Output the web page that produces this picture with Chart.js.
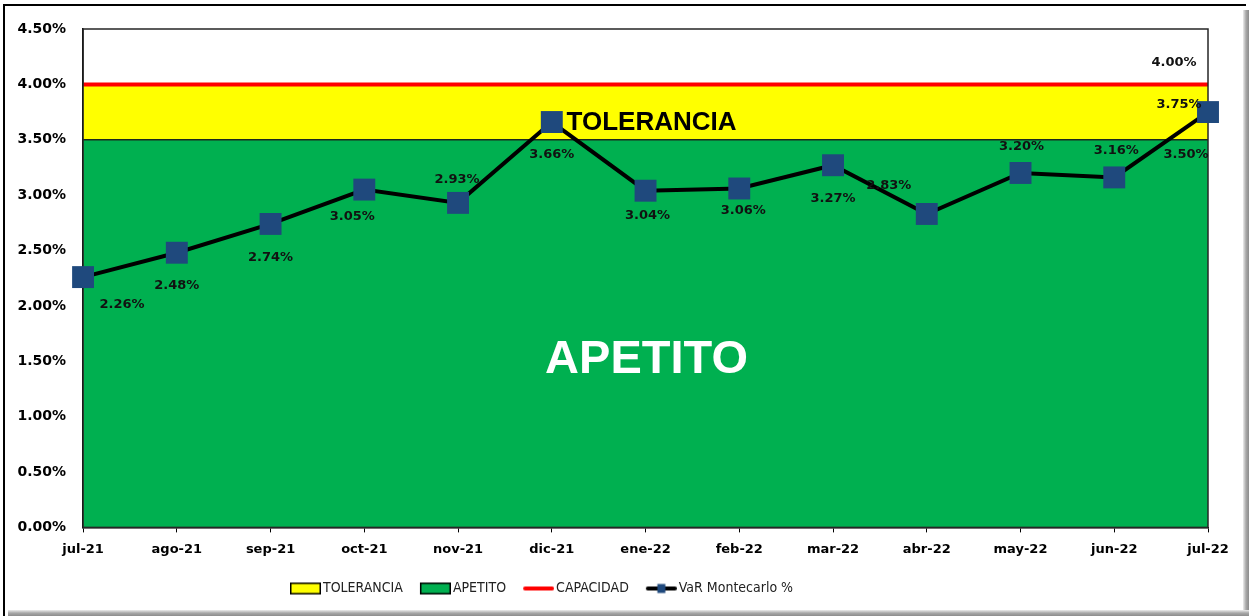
<!DOCTYPE html>
<html><head><meta charset="utf-8">
<script src="https://cdn.jsdelivr.net/npm/chart.js@4.4.1/dist/chart.umd.min.js"></script>
<style>
html,body{margin:0;padding:0;background:#fff;}
body{width:1249px;height:616px;position:relative;overflow:hidden;}
.fl{position:absolute;left:3px;top:4px;width:2px;height:612px;background:#000;}
.ft{position:absolute;left:3px;top:4px;width:1243px;height:2px;background:#000;}
.sr{position:absolute;left:1243px;top:10px;width:6px;height:606px;background:linear-gradient(to right,#ececec,#a8a8a8 50%,#8c8c8c);}
.sb{position:absolute;left:8px;top:610px;width:1241px;height:6px;background:linear-gradient(to bottom,#ececec,#a8a8a8 50%,#8c8c8c);}
#wrap{position:absolute;left:0;top:0;width:1249px;height:616px;}
</style></head>
<body>
<div class="fl"></div><div class="ft"></div><div class="sr"></div><div class="sb"></div>
<div id="wrap"><canvas id="c" width="1249" height="616"></canvas></div>
<script>
const categories = ['jul-21','ago-21','sep-21','oct-21','nov-21','dic-21','ene-22','feb-22','mar-22','abr-22','may-22','jun-22','jul-22'];
const varMontecarlo = [2.26,2.48,2.74,3.05,2.93,3.66,3.04,3.06,3.27,2.83,3.20,3.16,3.75];
const apetito = [3.5,3.5,3.5,3.5,3.5,3.5,3.5,3.5,3.5,3.5,3.5,3.5,3.5];
const tolerancia = [0.5,0.5,0.5,0.5,0.5,0.5,0.5,0.5,0.5,0.5,0.5,0.5,0.5];
const capacidad = [4.0,4.0,4.0,4.0,4.0,4.0,4.0,4.0,4.0,4.0,4.0,4.0,4.0];
const yTickLabels = ['0.00%','0.50%','1.00%','1.50%','2.00%','2.50%','3.00%','3.50%','4.00%','4.50%'];
const seriesNames = ['TOLERANCIA','APETITO','CAPACIDAD','VaR Montecarlo %'];
const bandLabels = ['TOLERANCIA','APETITO'];

const COLORS = {tol:'#FFFF00', ape:'#00B050', cap:'#FF0000', line:'#000000', marker:'#1F497D'};
const fmt = v => v.toFixed(2) + '%';

function legendImg(kind){
  const c = document.createElement('canvas');
  c.width = 36; c.height = 14;
  const g = c.getContext('2d');
  const x0 = 5, w = 31;
  if (kind === 'tol' || kind === 'ape') {
    g.fillStyle = kind === 'tol' ? COLORS.tol : COLORS.ape;
    g.fillRect(x0 + 1, 2, w - 2, 10);
    g.strokeStyle = '#000'; g.lineWidth = 1.5;
    g.strokeRect(x0 + 0.75, 1.75, w - 1.5, 10.5);
  } else if (kind === 'cap') {
    g.strokeStyle = COLORS.cap; g.lineWidth = 4; g.lineCap = 'round';
    g.beginPath(); g.moveTo(x0 + 2, 7); g.lineTo(x0 + w - 2, 7); g.stroke();
  } else {
    g.strokeStyle = '#000'; g.lineWidth = 4; g.lineCap = 'round';
    g.beginPath(); g.moveTo(x0 + 2, 7); g.lineTo(x0 + w - 2, 7); g.stroke();
    g.fillStyle = COLORS.marker; g.fillRect(x0 + w / 2 - 4, 2.5, 8, 9);
  }
  return c;
}
const legendImgs = [legendImg('tol'), legendImg('ape'), legendImg('cap'), legendImg('var')];

const legendPos = {
  id: 'legendPos',
  afterLayout(chart, args, opts) {
    const lg = chart.legend;
    if (!lg) return;
    const p = lg.options.labels.padding;
    const fs = lg.options.labels.font.size;
    const w = lg.right - lg.left, h = lg.bottom - lg.top;
    lg.left = opts.x - p; lg.right = lg.left + w;
    lg.top = opts.cy - fs / 2 - p; lg.bottom = lg.top + h;
  }
};

const overlay = {
  id: 'overlay',
  afterDatasetDraw(chart, args, opts) {
    const ctx = chart.ctx, a = chart.chartArea, y = chart.scales.y;
    const cx = (a.left + a.right) / 2;
    if (args.index === 1) {
      ctx.save();
      ctx.textAlign = 'center'; ctx.textBaseline = 'middle';
      ctx.fillStyle = '#000'; ctx.font = 'bold 26px "Liberation Sans", Arial, sans-serif';
      ctx.fillText(bandLabels[0], cx + 6, (y.getPixelForValue(capacidad[0]) + y.getPixelForValue(apetito[0])) / 2 + 11);
      ctx.fillStyle = '#fff'; ctx.font = 'bold 47px "Liberation Sans", Arial, sans-serif';
      ctx.fillText(bandLabels[1], cx + 1, (y.getPixelForValue(apetito[0]) + y.getPixelForValue(0)) / 2 + 26);
      ctx.restore();
    }
    if (args.index === 2) {
      ctx.save();
      ctx.strokeStyle = '#262626'; ctx.lineWidth = 1.5;
      ctx.strokeRect(a.left, a.top, a.right - a.left, a.bottom - a.top);
      ctx.restore();
    }
  },
  afterDatasetsDraw(chart, args, opts) {
    const ctx = chart.ctx;
    ctx.save();
    ctx.font = 'bold 13px "DejaVu Sans", sans-serif';
    ctx.fillStyle = '#111';
    ctx.textAlign = 'center'; ctx.textBaseline = 'middle';
    const meta = chart.getDatasetMeta(3);
    meta.data.forEach((pt, i) => {
      const o = opts.offsets[i];
      ctx.fillText(fmt(varMontecarlo[i]), pt.x + o[0], pt.y + o[1]);
    });
    const last = categories.length - 1;
    const capPt = chart.getDatasetMeta(2).data[last];
    ctx.fillText(fmt(capacidad[last]), capPt.x + opts.capOffset[0], capPt.y + opts.capOffset[1]);
    const apePt = chart.getDatasetMeta(1).data[last];
    ctx.fillText(fmt(apetito[last]), apePt.x + opts.apeOffset[0], apePt.y + opts.apeOffset[1]);
    ctx.restore();
  }
};

const xTickFont = {family: '"DejaVu Sans", sans-serif', weight: 'bold', size: 13};
const yTickFont = {family: '"DejaVu Sans", sans-serif', weight: 'bold', size: 14};

new Chart(document.getElementById('c'), {
  type: 'line',
  data: {
    labels: categories,
    datasets: [
      {label: seriesNames[0], data: apetito.map((v, i) => v + tolerancia[i]), fill: 1,
       backgroundColor: COLORS.tol, borderColor: COLORS.tol, borderWidth: 0, pointRadius: 0, order: 3},
      {label: seriesNames[1], data: apetito, fill: 'origin',
       backgroundColor: COLORS.ape, borderColor: '#1c2a1c', borderWidth: 1.5, pointRadius: 0, order: 2},
      {label: seriesNames[2], data: capacidad, fill: false,
       borderColor: COLORS.cap, borderWidth: 4, pointRadius: 0, order: 1},
      {label: seriesNames[3], data: varMontecarlo, fill: false,
       borderColor: COLORS.line, borderWidth: 4, pointStyle: 'rect', pointRadius: 15.5, pointHoverRadius: 15.5,
       pointBackgroundColor: COLORS.marker, pointBorderColor: COLORS.marker, pointBorderWidth: 0, order: 0, clip: false}
    ]
  },
  options: {
    responsive: false, animation: false, devicePixelRatio: 1,
    layout: {padding: {left: 0.5, right: 41, top: 29, bottom: 9}},
    elements: {line: {tension: 0}},
    scales: {
      x: {
        offset: false,
        grid: {display: true, drawOnChartArea: false, drawTicks: true, tickLength: 5, color: '#000', lineWidth: 1},
        border: {display: true, color: '#000', width: 1.5},
        ticks: {padding: 9, color: '#000', font: xTickFont, maxRotation: 0, autoSkip: false}
      },
      y: {
        min: 0, max: 4.5,
        grid: {display: false, drawTicks: false},
        border: {display: true, color: '#000', width: 1.5},
        ticks: {stepSize: 0.5, padding: 17, color: '#000', font: yTickFont, callback: (v, i) => yTickLabels[i]}
      }
    },
    plugins: {
      legend: {
        position: 'bottom', align: 'start', maxHeight: 44,
        labels: {
          usePointStyle: true, pointStyleWidth: 26, boxHeight: 14, padding: 17, color: '#222',
          font: {family: "'Liberation Sans Narrow','DejaVu Sans Condensed',sans-serif", size: 14},
          generateLabels: (chart) => chart.data.datasets.map((ds, i) => ({
            text: ds.label, pointStyle: legendImgs[i], datasetIndex: i, hidden: false,
            lineWidth: 0, strokeStyle: 'rgba(0,0,0,0)', fillStyle: 'rgba(0,0,0,0)', fontColor: '#222'
          }))
        }
      },
      tooltip: {enabled: false},
      legendPos: {x: 290, cy: 588.5},
      overlay: {
        offsets: [[39,28],[0,33],[0,34],[-12,27],[-1,-23],[0,33],[2,25],[4,22],[0,33],[-38,-28],[1,-26],[2,-27],[-29,-7]],
        capOffset: [-34, -22],
        apeOffset: [-22, 15]
      }
    }
  },
  plugins: [legendPos, overlay]
});
</script>
</body></html>
